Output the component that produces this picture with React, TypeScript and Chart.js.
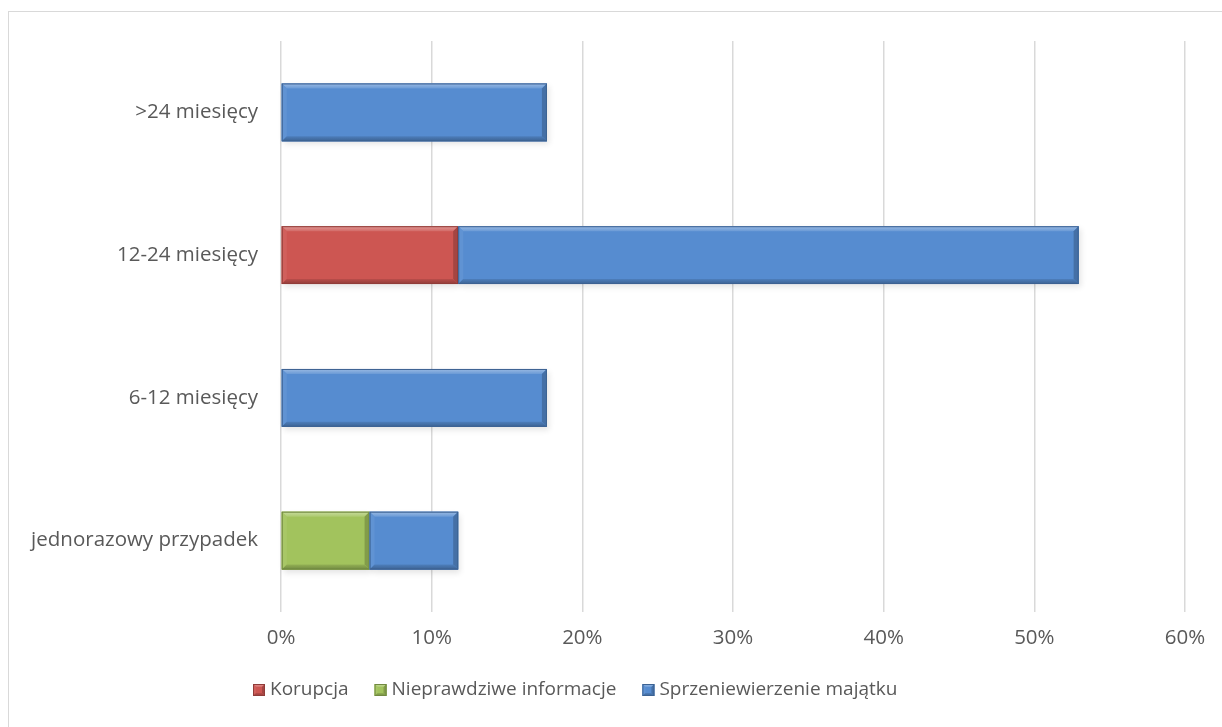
import React, { useEffect, useRef } from "react";
import { Chart, registerables } from "chart.js";

Chart.register(...registerables);

const categories = [">24 miesięcy", "12-24 miesięcy", "6-12 miesięcy", "jednorazowy przypadek"];
const korupcja = [null, 11.76, null, null];
const nieprawdziwe = [null, null, null, 5.88];
const sprzeniewierzenie = [17.65, 41.18, 17.65, 5.88];
const seriesNames = ["Korupcja", "Nieprawdziwe informacje", "Sprzeniewierzenie majątku"];
const xTicks = [0, 10, 20, 30, 40, 50, 60];

const COLORS = ["#CD5652", "#A2C35D", "#568CD0"];
const FONT = "'Open Sans', 'DejaVu Sans', sans-serif";

function shade(hex: string, amt: number) {
  const n = parseInt(hex.slice(1), 16);
  let r = (n >> 16) & 255, g = (n >> 8) & 255, b = n & 255;
  if (amt >= 0) {
    r = r + (255 - r) * amt; g = g + (255 - g) * amt; b = b + (255 - b) * amt;
  } else {
    r = r * (1 + amt); g = g * (1 + amt); b = b * (1 + amt);
  }
  return `rgb(${Math.round(r)},${Math.round(g)},${Math.round(b)})`;
}

function bevelRect(ctx: CanvasRenderingContext2D, l: number, t: number, r: number, b: number, c: string, s: number) {
  const poly = (pts: number[][], col: any) => {
    ctx.beginPath();
    ctx.moveTo(pts[0][0], pts[0][1]);
    for (let k = 1; k < pts.length; k++) ctx.lineTo(pts[k][0], pts[k][1]);
    ctx.closePath();
    ctx.fillStyle = col;
    ctx.fill();
  };
  ctx.fillStyle = c;
  ctx.fillRect(l, t, r - l, b - t);
  const gTop = ctx.createLinearGradient(0, t, 0, t + s);
  gTop.addColorStop(0, shade(c, 0.4));
  gTop.addColorStop(1, shade(c, 0.12));
  poly([[l, t], [r, t], [r - s, t + s], [l + s, t + s]], gTop);
  poly([[l, t], [l + s, t + s], [l + s, b - s], [l, b]], shade(c, 0.06));
  poly([[r, t], [r, b], [r - s, b - s], [r - s, t + s]], shade(c, -0.2));
  const gBot = ctx.createLinearGradient(0, b - s, 0, b);
  gBot.addColorStop(0, shade(c, -0.1));
  gBot.addColorStop(1, shade(c, -0.3));
  poly([[l, b], [l + s, b - s], [r - s, b - s], [r, b]], gBot);
  ctx.strokeStyle = shade(c, -0.3);
  ctx.lineWidth = 1;
  ctx.strokeRect(l + 0.5, t + 0.5, r - l - 1, b - t - 1);
}

const bevelPlugin = {
  id: "bevel",
  beforeDatasetsDraw(chart: any) {
    const ctx = chart.ctx;
    ctx.save();
    chart.data.datasets.forEach((ds: any, i: number) => {
      const meta = chart.getDatasetMeta(i);
      meta.data.forEach((el: any, j: number) => {
        if (ds.data[j] == null) return;
        const left = Math.min(el.x, el.base), right = Math.max(el.x, el.base);
        const top = el.y - el.height / 2;
        ctx.shadowColor = "rgba(0,0,0,0.35)";
        ctx.shadowBlur = 6;
        ctx.shadowOffsetX = 2;
        ctx.shadowOffsetY = 3;
        ctx.fillStyle = "rgba(0,0,0,0.3)";
        ctx.fillRect(left, top, right - left, el.height);
      });
    });
    ctx.restore();
  },
  afterDatasetsDraw(chart: any) {
    const ctx = chart.ctx;
    ctx.save();
    chart.data.datasets.forEach((ds: any, i: number) => {
      const meta = chart.getDatasetMeta(i);
      meta.data.forEach((el: any, j: number) => {
        if (ds.data[j] == null) return;
        const l = Math.min(el.x, el.base), r = Math.max(el.x, el.base);
        const t = el.y - el.height / 2, b = el.y + el.height / 2;
        bevelRect(ctx, l, t, r, b, COLORS[i], 5);
      });
    });
    ctx.restore();
  },
};

const legendPlugin = {
  id: "customLegend",
  afterDraw(chart: any) {
    const ctx = chart.ctx;
    ctx.save();
    const fs = 19;
    ctx.font = `${fs}px ${FONT}`;
    const box = 12, gapBox = 5, gapItem = 26;
    const widths = seriesNames.map((n) => box + gapBox + ctx.measureText(n).width);
    let x = 253;
    const cy = 690;
    seriesNames.forEach((n, i) => {
      bevelRect(ctx, x, cy - box / 2, x + box, cy + box / 2, COLORS[i], 3);
      ctx.fillStyle = "#595959";
      ctx.textBaseline = "middle";
      ctx.textAlign = "left";
      ctx.fillText(n, x + box + gapBox, cy);
      x += widths[i] + gapItem;
    });
    ctx.restore();
  },
};

export default function App() {
  const ref = useRef<HTMLCanvasElement | null>(null);

  useEffect(() => {
    if (!ref.current) return;
    const chart = new Chart(ref.current, {
      type: "bar",
      data: {
        labels: categories,
        datasets: [
          { label: seriesNames[0], data: korupcja, backgroundColor: COLORS[0] },
          { label: seriesNames[1], data: nieprawdziwe, backgroundColor: COLORS[1] },
          { label: seriesNames[2], data: sprzeniewierzenie, backgroundColor: COLORS[2] },
        ],
      },
      options: {
        indexAxis: "y",
        responsive: true,
        maintainAspectRatio: false,
        animation: false,
        layout: { padding: { top: 41, right: 37, left: 0, bottom: 0 } },
        datasets: { bar: { categoryPercentage: 1, barPercentage: 0.405, borderWidth: 0 } },
        scales: {
          x: {
            stacked: true,
            min: 0,
            max: 60,
            afterBuildTicks: (s: any) => { s.ticks = xTicks.map((v) => ({ value: v })); },
            afterFit: (s: any) => { s.height = 115; },
            ticks: {
              callback: (v: any) => v + "%",
              color: "#595959",
              font: { family: FONT, size: 20.5 },
              padding: 14,
            },
            grid: { color: "#D9D9D9", lineWidth: 1.5, drawTicks: false },
            border: { display: false },
          },
          y: {
            stacked: true,
            afterFit: (s: any) => { s.width = 281; },
            ticks: { color: "#595959", font: { family: FONT, size: 20.5 }, padding: 23 },
            grid: { display: false, drawTicks: false },
            border: { display: false },
          },
        },
        plugins: {
          tooltip: { enabled: false },
          legend: { display: false },
        },
      },
      plugins: [bevelPlugin, legendPlugin],
    });
    return () => chart.destroy();
  }, []);

  return (
    <div style={{ position: "fixed", left: 0, top: 0, width: 1222, height: 727, background: "#fff", overflow: "hidden" }}>
      <div style={{ position: "absolute", left: 8, top: 11, width: 1240, height: 760, border: "1.5px solid #D9D9D9" }} />
      <div style={{ position: "absolute", left: 0, top: 0, width: 1222, height: 727 }}>
        <canvas ref={ref} />
      </div>
    </div>
  );
}
